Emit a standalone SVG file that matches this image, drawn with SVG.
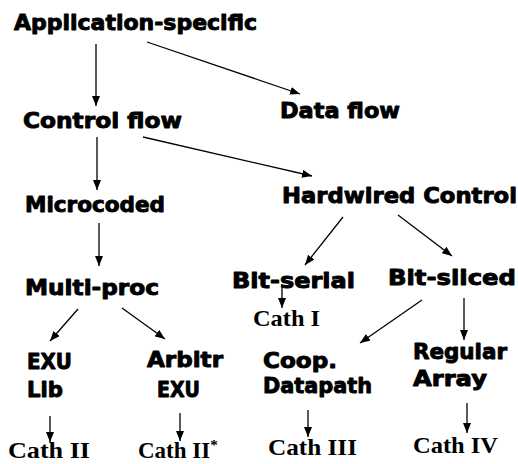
<svg xmlns="http://www.w3.org/2000/svg" width="518" height="464" viewBox="0 0 518 464">
  <style>
    .lbl { font-family: "DejaVu Sans", "Liberation Sans", sans-serif; font-weight: bold; font-size: 21px; fill: #000; stroke: #000; stroke-width: 0.9; stroke-linejoin: round; }
    .cat { font-family: "Liberation Serif", serif; font-weight: bold; font-size: 23px; fill: #000; }
    .edge { stroke: #000; stroke-width: 1.3; fill: none; marker-end: url(#head); }
  </style>
  <defs>
    <marker id="head" markerUnits="userSpaceOnUse" markerWidth="11" markerHeight="8" refX="10" refY="4" orient="auto">
      <path d="M0,0 L10,4 L0,8 z" fill="#000"/>
    </marker>
  </defs>
  <rect width="518" height="464" fill="#fff"/>

  <g id="connectors">
    <line class="edge" x1="96" y1="44" x2="96" y2="106"/>
    <line class="edge" x1="147" y1="42" x2="300" y2="94"/>
    <line class="edge" x1="97" y1="137" x2="97" y2="190"/>
    <line class="edge" x1="143" y1="137" x2="312" y2="176"/>
    <line class="edge" x1="99" y1="223" x2="99" y2="266"/>
    <line class="edge" x1="78" y1="309" x2="50" y2="341"/>
    <line class="edge" x1="122" y1="308" x2="165" y2="339"/>
    <line class="edge" x1="343" y1="217" x2="305" y2="265"/>
    <line class="edge" x1="398" y1="215" x2="452" y2="256"/>
    <line class="edge" x1="282" y1="287" x2="282" y2="308"/>
    <line class="edge" x1="422" y1="300" x2="360" y2="343"/>
    <line class="edge" x1="464" y1="298" x2="464" y2="340"/>
    <line class="edge" x1="50" y1="416" x2="50" y2="442"/>
    <line class="edge" x1="180" y1="413" x2="180" y2="441"/>
    <line class="edge" x1="308" y1="410" x2="308" y2="437"/>
    <line class="edge" x1="467" y1="403" x2="467" y2="433"/>
  </g>

  <g id="app-specific"><text class="lbl" x="14" y="30" textLength="243" lengthAdjust="spacingAndGlyphs">Application-specific</text></g>
  <g id="control-flow"><text class="lbl" x="23" y="128" textLength="159" lengthAdjust="spacingAndGlyphs">Control flow</text></g>
  <g id="data-flow"><text class="lbl" x="280" y="118" textLength="120" lengthAdjust="spacingAndGlyphs">Data flow</text></g>
  <g id="hardwired"><text class="lbl" x="282" y="203" textLength="235" lengthAdjust="spacingAndGlyphs">Hardwired Control</text></g>
  <g id="microcoded"><text class="lbl" x="25" y="212" textLength="140" lengthAdjust="spacingAndGlyphs">Microcoded</text></g>
  <g id="multi-proc"><text class="lbl" x="25" y="295" textLength="134" lengthAdjust="spacingAndGlyphs">Multi-proc</text></g>
  <g id="bit-serial"><text class="lbl" x="232" y="288" textLength="123" lengthAdjust="spacingAndGlyphs">Bit-serial</text></g>
  <g id="bit-sliced"><text class="lbl" x="388" y="285" textLength="128" lengthAdjust="spacingAndGlyphs">Bit-sliced</text></g>
  <g id="exu-lib">
    <text class="lbl" x="27" y="369" textLength="45" lengthAdjust="spacingAndGlyphs">EXU</text>
    <text class="lbl" x="27" y="397" textLength="36" lengthAdjust="spacingAndGlyphs">Lib</text>
  </g>
  <g id="arbitr-exu">
    <text class="lbl" x="147" y="367" textLength="76" lengthAdjust="spacingAndGlyphs">Arbitr</text>
    <text class="lbl" x="157" y="397" textLength="43" lengthAdjust="spacingAndGlyphs">EXU</text>
  </g>
  <g id="coop-datapath">
    <text class="lbl" x="263" y="368" textLength="74" lengthAdjust="spacingAndGlyphs">Coop.</text>
    <text class="lbl" x="263" y="393" textLength="109" lengthAdjust="spacingAndGlyphs">Datapath</text>
  </g>
  <g id="regular-array">
    <text class="lbl" x="413" y="359" textLength="94" lengthAdjust="spacingAndGlyphs">Regular</text>
    <text class="lbl" x="413" y="386" textLength="74" lengthAdjust="spacingAndGlyphs">Array</text>
  </g>
  <g id="cath-1"><text class="cat" x="253" y="326" textLength="67" lengthAdjust="spacingAndGlyphs">Cath I</text></g>
  <g id="cath-2"><text class="cat" x="8" y="458" textLength="82" lengthAdjust="spacingAndGlyphs">Cath II</text></g>
  <g id="cath-2x"><text class="cat" x="138" y="458">Cath II<tspan font-size="15" dy="-8">*</tspan></text></g>
  <g id="cath-3"><text class="cat" x="268" y="455" textLength="89" lengthAdjust="spacingAndGlyphs">Cath III</text></g>
  <g id="cath-4"><text class="cat" x="413" y="453" textLength="85" lengthAdjust="spacingAndGlyphs">Cath IV</text></g>
</svg>
